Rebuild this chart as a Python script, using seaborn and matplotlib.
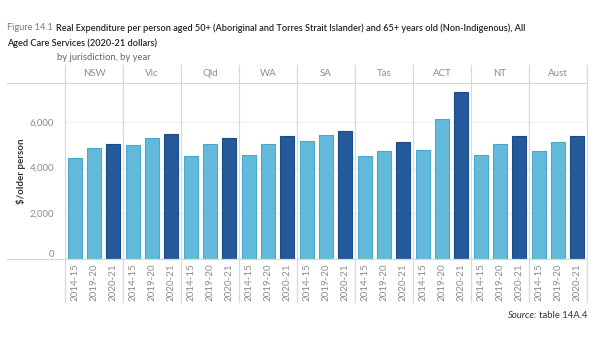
import numpy as np
import pandas as pd
import matplotlib.pyplot as plt
from matplotlib.lines import Line2D
import seaborn as sns

jurisdictions = ["NSW", "Vic", "Qld", "WA", "SA", "Tas", "ACT", "NT", "Aust"]
years = ["2014-15", "2019-20", "2020-21"]
v_2014_15 = [4400, 4970, 4490, 4570, 5170, 4490, 4770, 4570, 4720]
v_2019_20 = [4860, 5290, 5040, 5040, 5420, 4720, 6140, 5040, 5120]
v_2020_21 = [5040, 5480, 5290, 5360, 5620, 5120, 7320, 5360, 5360]

light = "#63b9da"
dark = "#245a9a"
grey = "#8c8c8c"
sep = "#d9d9d9"

rows = []
for i, j in enumerate(jurisdictions):
    for y, vals in zip(years, [v_2014_15, v_2019_20, v_2020_21]):
        rows.append({"jurisdiction": j, "year": y, "value": vals[i]})
df = pd.DataFrame(rows)

sns.set_style("white")
plt.rcParams["font.family"] = ["Lato", "DejaVu Sans"]

fig = plt.figure(figsize=(6, 3.5), dpi=100)
left, right, bottom, top = 65 / 600, 587 / 600, 1 - 259 / 350, 1 - 83 / 350
gs = fig.add_gridspec(1, len(jurisdictions), left=left, right=right,
                      bottom=bottom, top=top, wspace=0)

palette = {"2014-15": light, "2019-20": light, "2020-21": dark}
edges = {"2014-15": "#4aa8d0", "2019-20": "#4aa8d0", "2020-21": "#1a4a88"}

axes = []
for k, j in enumerate(jurisdictions):
    ax = fig.add_subplot(gs[0, k], sharey=axes[0] if axes else None)
    sub = df[df["jurisdiction"] == j]
    sns.barplot(data=sub, x="year", y="value", hue="year", palette=palette,
                order=years, width=0.74, legend=False, ax=ax, saturation=1)
    for patch, yr in zip(ax.patches, years):
        patch.set_edgecolor(edges[yr])
        patch.set_linewidth(0.8)
    ax.set_ylim(0, 7700)
    ax.set_xlim(-0.55, 2.55)
    ax.set_yticks([0, 2000, 4000, 6000])
    ax.yaxis.grid(True, color="#efefef", linewidth=0.8)
    ax.set_axisbelow(True)
    ax.set_xlabel("")
    ax.set_ylabel("")
    for s in ax.spines.values():
        s.set_visible(False)
    ax.tick_params(axis="x", length=0, pad=3, labelsize=7, labelcolor=grey,
                   rotation=90)
    if k == 0:
        ax.tick_params(axis="y", length=0, pad=8, labelsize=7, labelcolor=grey)
        ax.set_yticklabels(["0", "2,000", "4,000", "6,000"])
        ax.get_yticklabels()[0].set_va("bottom")
    else:
        ax.tick_params(axis="y", length=0, labelleft=False)
    ax.text(0.5, 1.0 + 9 / 176, j, transform=ax.transAxes, ha="center",
            va="center", fontsize=7, color=grey)
    axes.append(ax)

# panel separators and header / baseline rules
for k in range(len(jurisdictions) + 1):
    x = left + (right - left) * k / len(jurisdictions)
    fig.add_artist(Line2D([x, x], [1 - 302 / 350, 1 - 65 / 350],
                          color=sep, linewidth=0.9))
for yy in [top, bottom]:
    fig.add_artist(Line2D([7 / 600, right], [yy, yy], color=sep, linewidth=0.9))

axes[0].set_ylabel("$/older person", fontsize=7, fontweight="bold",
                   color="#333333")
axes[0].yaxis.set_label_coords(-0.68, 0.5)

renderer = fig.canvas.get_renderer()
inv = fig.transFigure.inverted()

tsize = 6.6
t1 = fig.text(7 / 600, 1 - 28 / 350, "Figure 14.1", fontsize=tsize,
              color="#777777", va="center")
x1 = inv.transform(t1.get_window_extent(renderer))[1, 0] + 3 / 600
fig.text(x1, 1 - 28 / 350,
         "Real Expenditure per person aged 50+ (Aboriginal and Torres Strait Islander) "
         "and 65+ years old (Non-Indigenous), All",
         fontsize=tsize, color="#222222", va="center", fontweight="semibold")
fig.text(7 / 600, 1 - 43 / 350, "Aged Care Services (2020-21 dollars)",
         fontsize=tsize, color="#222222", va="center", fontweight="semibold")
fig.text(57 / 600, 1 - 57 / 350, "by jurisdiction, by year", fontsize=6.8,
         color="#666666", va="center")

t2 = fig.text(right, 1 - 316 / 350, "table 14A.4", fontsize=6.8,
              color="#333333", ha="right", va="center")
x2 = inv.transform(t2.get_window_extent(renderer))[0, 0] - 1.5 / 600
fig.text(x2, 1 - 316 / 350, "Source:", fontsize=6.8, color="#333333",
         ha="right", va="center", style="italic")

fig.savefig("out.png", dpi=100)
